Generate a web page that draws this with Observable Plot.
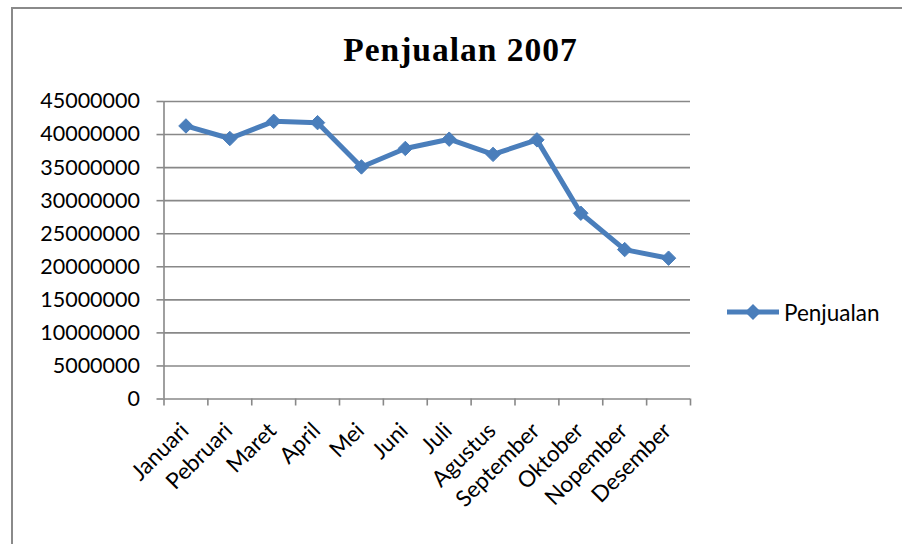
<!DOCTYPE html>
<html><head><meta charset="utf-8">
<script src="https://cdn.jsdelivr.net/npm/d3@7"></script>
<script src="https://cdn.jsdelivr.net/npm/@observablehq/plot@0.6"></script>
<style>
html,body{margin:0;padding:0;background:#fff;overflow:hidden;}
#wrap{position:relative;width:902px;height:544px;overflow:hidden;background:#fff;}
#frame{position:absolute;left:11px;top:7px;width:1000px;height:1000px;border:2px solid #8a8a8a;}
#title{position:absolute;left:0;top:33px;width:921px;text-align:center;font:bold 33.5px "Liberation Serif",serif;letter-spacing:1px;line-height:1;color:#000;}
#legend{position:absolute;left:727px;top:300px;height:24px;display:flex;align-items:center;font:22.5px Lato,sans-serif;color:#000;}
#legend svg{position:static;margin-right:3px;}
#chart{position:absolute;left:0;top:0;}
</style>
</head><body>
<div id="wrap">
  <div id="frame"></div>
  <div id="chart"></div>
  <div id="title"></div>
  <div id="legend"></div>
</div>
<script>
const title = "Penjualan 2007";
const seriesName = "Penjualan";
const months = ["Januari","Pebruari","Maret","April","Mei","Juni","Juli","Agustus","September","Oktober","Nopember","Desember"];
const sales = [41300000, 39400000, 42000000, 41800000, 35100000, 37900000, 39300000, 37000000, 39200000, 28100000, 22600000, 21300000];
const yTicks = [0, 5000000, 10000000, 15000000, 20000000, 25000000, 30000000, 35000000, 40000000, 45000000];

const lineColor = "#4a7ebb";
const gridColor = "#888888";
const data = months.map((m, i) => ({month: m, i, value: sales[i]}));
const boundaries = d3.range(months.length + 1);
const centers = data.map(d => d.i + 0.5);

const chart = Plot.plot({
  width: 902, height: 544,
  marginLeft: 163.5, marginRight: 212, marginTop: 101, marginBottom: 145.5,
  style: {fontFamily: "Lato, sans-serif", fontSize: "21.5px", color: "#000", background: "transparent"},
  x: {domain: [0, months.length]},
  y: {domain: [0, 45000000]},
  marks: [
    Plot.gridY(yTicks, {stroke: gridColor, strokeOpacity: 1, strokeWidth: 1.6}),
    Plot.axisY(yTicks, {tickSize: 7, tickPadding: 17, tickFormat: d => String(d), stroke: gridColor, strokeWidth: 1.6, label: null, fill: "#000"}),
    Plot.axisX(boundaries, {tickSize: 7, tickFormat: () => "", stroke: gridColor, strokeWidth: 1.6, label: null}),
    Plot.axisX(centers, {tickSize: 0, tickPadding: 28, dx: -1, tickRotate: -45, fontSize: 22.5, tickFormat: v => months[Math.floor(v)], label: null, fill: "#000"}),
    Plot.ruleX([0], {stroke: gridColor, strokeWidth: 1.6}),
    Plot.line(data, {x: d => d.i + 0.5, y: "value", stroke: lineColor, strokeWidth: 5, strokeLinejoin: "round"}),
    Plot.dot(data, {x: d => d.i + 0.5, y: "value", symbol: "diamond2", r: 6.5, fill: lineColor, stroke: lineColor, strokeWidth: 1})
  ]
});
document.getElementById("chart").appendChild(chart);
document.getElementById("title").textContent = title;

const leg = document.getElementById("legend");
leg.innerHTML = `<svg width="54" height="24"><line x1="0" y1="12" x2="52" y2="12" stroke="${lineColor}" stroke-width="5"/><path d="M26,4L34,12L26,20L18,12Z" fill="${lineColor}"/></svg><span>${seriesName}</span>`;
</script>
</body></html>
